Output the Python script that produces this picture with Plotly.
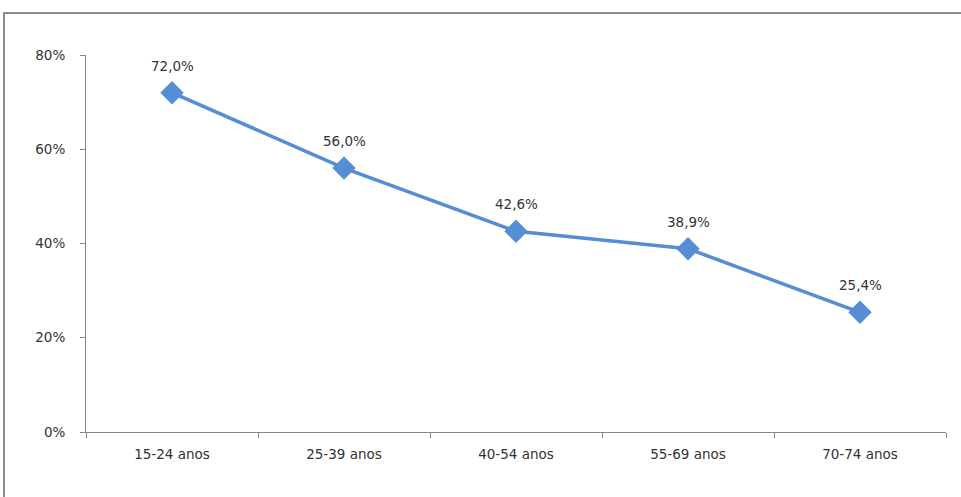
import plotly.graph_objects as go

categories = ["15-24 anos", "25-39 anos", "40-54 anos", "55-69 anos", "70-74 anos"]
values = [0.720, 0.560, 0.426, 0.389, 0.254]
labels = ["72,0%", "56,0%", "42,6%", "38,9%", "25,4%"]
y_ticks = [0, 0.2, 0.4, 0.6, 0.8]
y_ticktext = ["0%", "20%", "40%", "60%", "80%"]

color = "#558ED5"
fam = "DejaVu Sans, Verdana, sans-serif"
font = dict(family=fam, size=13, color="#333333")

fig = go.Figure()
fig.add_trace(go.Scatter(
    x=categories, y=values, mode="lines+markers",
    line=dict(color=color, width=3.5),
    marker=dict(symbol="diamond", size=18, color=color),
    hoverinfo="skip",
))
for c, v, t in zip(categories, values, labels):
    fig.add_annotation(x=c, y=v, text=t, showarrow=False, yshift=27,
                       font=dict(family=fam, size=13.5, color="#333333"))

W, H = 961, 497
ml, mr, mt, mb = 86, 15, 55, 65
pw, ph = W - ml - mr, H - mt - mb
fig.add_shape(type="rect", xref="paper", yref="paper",
              x0=(4 - ml) / pw, x1=(W + 20 - ml) / pw,
              y0=-(mb + 20) / ph, y1=(H - mb - 13) / ph,
              line=dict(color="#8C8C8C", width=2), fillcolor="rgba(0,0,0,0)", layer="below")

fig.update_layout(
    width=W, height=H,
    margin=dict(l=ml, r=mr, t=mt, b=mb),
    paper_bgcolor="white", plot_bgcolor="white",
    showlegend=False,
    font=font,
    xaxis=dict(type="category", range=[-0.5, 4.5], showline=True, linecolor="#868686",
               linewidth=1, ticks="outside", tickson="boundaries", ticklen=5,
               tickcolor="#868686", showgrid=False, zeroline=False,
               ticklabelstandoff=10,
               tickfont=dict(size=13.5, color="#333333")),
    yaxis=dict(range=[0, 0.8], tickvals=y_ticks, ticktext=y_ticktext, showline=True,
               linecolor="#868686", linewidth=1, ticks="outside", ticklen=5,
               tickcolor="#868686", showgrid=False, zeroline=False,
               ticklabelstandoff=12,
               tickfont=dict(size=13.5, color="#333333")),
)

fig.write_html("out.html")
